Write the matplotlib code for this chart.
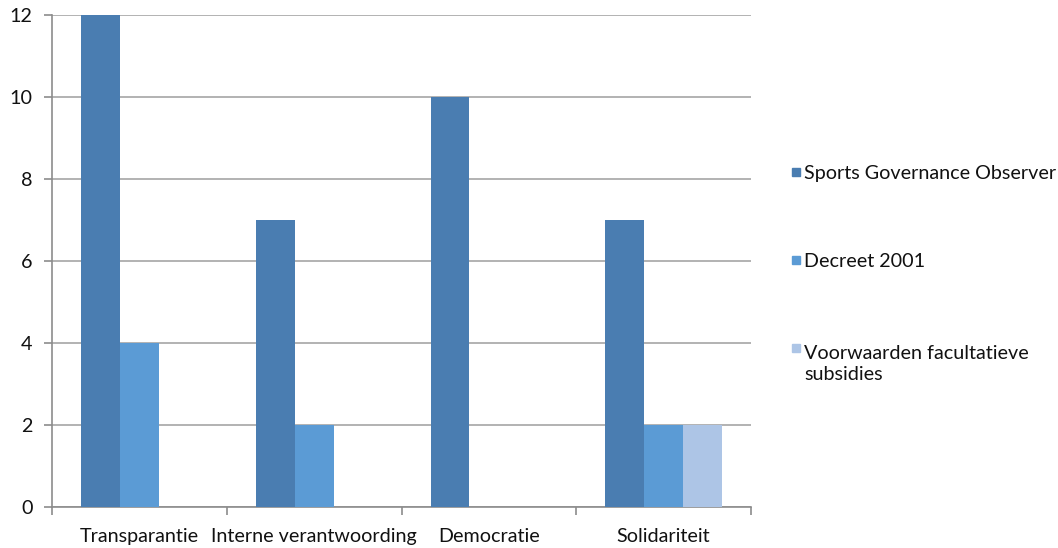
import matplotlib
matplotlib.use("Agg")
import matplotlib.pyplot as plt
from matplotlib.patches import Rectangle
import numpy as np

categories = ["Transparantie", "Interne verantwoording", "Democratie", "Solidariteit"]
series_names = ["Sports Governance Observer", "Decreet 2001", "Voorwaarden facultatieve\nsubsidies"]
sgo = [12, 7, 10, 7]
decreet = [4, 2, 0, 2]
voorwaarden = [0, 0, 0, 2]
colors = ["#4a7db1", "#5b9bd5", "#adc5e6"]

plt.rcParams['font.family'] = ['Lato', 'DejaVu Sans']
txt_color = "#111111"
fs = 14.2

W, H = 1058, 548
fig = plt.figure(figsize=(W/100, H/100), dpi=100)
ax = fig.add_axes([52/W, 41/H, 699/W, 492/H])

x = np.arange(len(categories))
w = 1/4.5
for i, (vals, name, c) in enumerate(zip([sgo, decreet, voorwaarden], series_names, colors)):
    ax.bar(x + (i - 1) * w, vals, width=w, color=c, label=name, zorder=3)

ax.set_xlim(-0.5, len(categories) - 0.5)
ax.set_ylim(0, 12)
ax.set_yticks(range(0, 13, 2))
ax.yaxis.grid(True, color="#a6a6a6", linewidth=1.2, zorder=0)
ax.set_xticks(x)
ax.set_xticklabels(categories, fontsize=fs, color=txt_color)
ax.set_xticks(np.arange(-0.5, len(categories), 1), minor=True)
ax.tick_params(axis='x', which='major', length=0, pad=15)
ax.tick_params(axis='x', which='minor', length=6, color="#8c8c8c", width=1.2)
ax.tick_params(axis='y', length=6, color="#8c8c8c", width=1.2, labelsize=fs,
               labelcolor=txt_color, pad=8)
for s in ["top", "right"]:
    ax.spines[s].set_visible(False)
for s in ["left", "bottom"]:
    ax.spines[s].set_color("#8c8c8c")
    ax.spines[s].set_linewidth(1.2)

# legend (manual, handle aligned with first text line)
baselines = [179, 267, 355]
line_px = 25
for name, c, b in zip(series_names, colors, baselines):
    sq = 8
    cy = b - 7.5
    fig.add_artist(Rectangle((792/W, (H - cy - sq/2)/H), sq/W, sq/H,
                             transform=fig.transFigure, color=c))
    n = name.count("\n")
    ls = line_px / (fs * 100 / 72)
    fig.text(804/W, (H - b - n * line_px)/H, name, fontsize=fs, color=txt_color,
             ha="left", va="baseline", linespacing=ls)

fig.savefig("out.png", dpi=100)
